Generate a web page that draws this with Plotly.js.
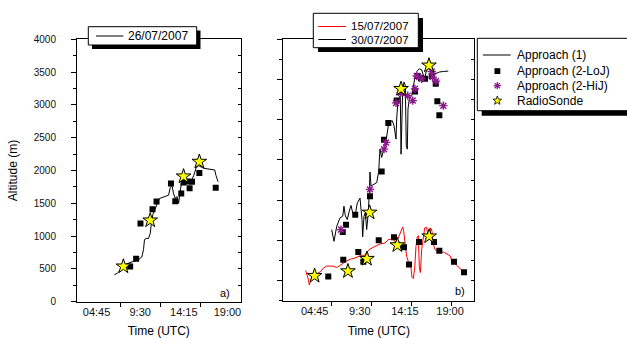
<!DOCTYPE html>
<html><head><meta charset="utf-8">
<script src="https://cdn.plot.ly/plotly-3.0.1.min.js"></script>
<style>html,body{margin:0;padding:0;background:#fff}#chart{width:627px;height:338px}</style>
</head><body><div id="chart"></div>
<script>
// ---------- DATA (time in decimal hours UTC, altitude in m) ----------
// Panel a) 26/07/2007
const line26_t   = [6.69,7.02,7.31,7.67,8.05,8.77,9.31,9.68,9.86,9.97,10.15,10.4,10.59,10.7,10.88,11.13,11.39,11.6,12.23,12.59,12.77,12.96,13.13,13.32,13.5,13.68,13.79,13.94,14.05,14.41,14.66,14.96,15.32,15.58,15.86,16.41,16.95,17.61,17.76,17.98];
const line26_alt = [410,436,476,548,579,614,640,682,794,948,963,963,1040,1178,1332,1408,1521,1573,1604,1624,1742,1767,1650,1573,1604,1500,1613,1767,1880,1895,1843,1818,1920,2034,2074,2034,2023,2008,1920,1828];
const loj26_t    = [8.41,9.06,9.53,10.84,11.28,12.85,13.32,13.97,14.22,14.6,14.88,15.14,15.94,17.72];
const loj26_alt  = [538,656,1193,1408,1527,1803,1531,1650,1819,1834,1731,1828,1961,1736];
const rs26_t     = [7.67,10.59,14.22,15.94];
const rs26_alt   = [538,1240,1911,2135];

// Panel b) 15/07/2007 (red) and 30/07/2007 (black)
const line15_t   = [3.80,4.08,4.18,4.36,4.54,4.96,5.38,5.66,6.01,6.65,7.07,7.41,7.76,8.12,8.54,8.99,9.52,9.94,10.22,10.57,11.1,11.62,12.15,12.5,12.96,13.31,13.55,13.8,14.01,14.12,14.26,14.43,14.68,14.89,14.99,15.13,15.28,15.41,15.55,15.66,15.76,15.87,16.01,16.18,16.33,16.54,16.68,16.81,16.96,17.1,17.2,17.42,17.76,18.29,18.65,19.0,19.17,19.41,19.7,19.94,20.22,20.33];
const line15_alt = [375,267,196,259,321,334,363,405,430,430,413,438,467,496,517,530,559,559,600,642,675,705,717,759,767,725,780,863,917,863,675,550,459,405,292,275,405,675,792,809,425,350,634,800,905,913,800,767,905,863,717,634,600,605,584,559,500,480,438,413,392,371];
const line30_t   = [6.54,6.78,7.07,7.41,7.70,7.83,7.97,8.18,8.39,8.57,8.75,8.99,9.24,9.52,9.73,9.80,9.94,10.08,10.22,10.39,10.50,10.57,10.68,10.92,11.28,11.49,11.62,11.80,11.97,12.18,12.33,12.50,12.68,12.92,13.10,13.31,13.38,13.49,13.66,13.76,13.84,13.94,14.01,14.15,14.29,14.39,14.50,14.57,14.71,14.96,15.13,15.31,15.49,15.76,16.01,16.18,16.33,16.47,16.71,16.96,17.23,17.52,17.87,18.29,18.81];
const line30_alt = [884,738,925,1030,1050,1175,1059,1009,1113,1184,1093,1050,1218,1275,1009,793,1050,1093,884,1093,1343,1600,1425,1443,1468,1613,1884,1780,1863,1925,2030,2175,2225,2238,2175,2009,2259,2446,2530,2550,1821,2343,2613,2718,2675,1925,1884,2384,2509,2550,2668,2780,2850,2884,2871,2800,2750,2843,2893,2875,2834,2825,2843,2850,2855];
const loj15_t    = [6.18,7.76,9.34,9.87,11.49,13.1,13.45,14.15,14.68,15.73,17.31,17.87,19.41,20.47];
const loj15_alt  = [300,509,605,484,750,788,696,663,450,730,730,621,484,355];
const loj30_t    = [7.7,8.05,9.02,10.57,11.8,12.05,12.5,13.38,13.87,15.31,15.59,15.94,16.36,17.07,17.49,17.66,17.87];
const loj30_alt  = [855,943,1068,1300,1605,2000,2209,2488,2593,2600,2793,2765,2759,2793,2696,2480,2305];
const hij30_t    = [7.52,10.57,12.05,12.26,13.31,13.8,14.54,15.07,15.3,15.49,16.01,17.07,17.17,17.52,18.29];
const hij30_alt  = [884,1384,1884,1968,2459,2584,2550,2488,2634,2793,2759,2850,2780,2730,2425];
const rsB_t      = [4.74,8.25,10.25,10.53,13.45,13.84,16.78,16.8];
const rsB_alt    = [309,367,521,1096,690,2634,2925,800];

// Axis ticks
const timeTickVals  = [4.75,9.5,14.25,19];
const timeTickText  = ['04:45','9:30','14:15','19:00'];
const altTickVals   = [0,500,1000,1500,2000,2500,3000,3500,4000];
const legendA = ['26/07/2007'];
const legendB = ['15/07/2007','30/07/2007'];
const legendC = ['Approach (1)','Approach (2-LoJ)','Approach (2-HiJ)','RadioSonde'];

// ---------- STYLE / LAYOUT ----------
const W=627,H=338;
const X=p=>p/W, Y=p=>1-p/H;
const FONT='Liberation Sans, Arial, sans-serif';
const PURPLE='#8b1a8b', STARFILL='#ffff00';

const sq = {symbol:'square',size:6,color:'#000'};
const st = {symbol:'star',size:11,color:STARFILL,line:{color:'#000',width:1}};
const ast= {symbol:'asterisk-open',size:7,color:PURPLE,line:{color:PURPLE,width:1.4}};

const traces = [
  {x:line26_t,y:line26_alt,xaxis:'x',yaxis:'y',mode:'lines',line:{color:'#000',width:1}},
  {x:loj26_t,y:loj26_alt,xaxis:'x',yaxis:'y',mode:'markers',marker:sq},
  {x:rs26_t,y:rs26_alt,xaxis:'x',yaxis:'y',mode:'markers',marker:st},
  {x:line15_t,y:line15_alt,xaxis:'x2',yaxis:'y2',mode:'lines',line:{color:'#ff0000',width:1}},
  {x:line30_t,y:line30_alt,xaxis:'x2',yaxis:'y2',mode:'lines',line:{color:'#000',width:1}},
  {x:loj15_t,y:loj15_alt,xaxis:'x2',yaxis:'y2',mode:'markers',marker:sq},
  {x:loj30_t,y:loj30_alt,xaxis:'x2',yaxis:'y2',mode:'markers',marker:sq},
  {x:hij30_t,y:hij30_alt,xaxis:'x2',yaxis:'y2',mode:'markers',marker:ast},
  {x:rsB_t,y:rsB_alt,xaxis:'x2',yaxis:'y2',mode:'markers',marker:st},
  {x:[],y:[],xaxis:'x',yaxis:'y3',mode:'markers'},
  {x:[],y:[],xaxis:'x2',yaxis:'y4',mode:'markers'}
];

const baseAx = {showline:true,linecolor:'#000',linewidth:1,showgrid:false,zeroline:false,
  tickfont:{family:FONT,size:11,color:'#111'},tickcolor:'#000'};

const layout = {
  width:W,height:H,margin:{l:0,r:0,t:0,b:0},paper_bgcolor:'#fff',plot_bgcolor:'#fff',
  showlegend:false,font:{family:FONT,color:'#000'},
  xaxis:Object.assign({},baseAx,{domain:[X(77),X(240.5)],range:[2.62,20.42],anchor:'y',mirror:true,
    tickmode:'array',tickvals:timeTickVals,ticktext:timeTickText,ticks:'',
    minor:{tickvals:[7.31,11.68,16.05],ticks:'outside',ticklen:4,tickcolor:'#000',showgrid:false},
    title:{text:'Time (UTC)',font:{family:FONT,size:12},standoff:13}}),
  yaxis:Object.assign({},baseAx,{domain:[0.1074,0.8837],range:[0,4000],anchor:'x',mirror:true,
    tickmode:'array',tickvals:altTickVals,ticks:'outside',ticklen:5,ticklabelstandoff:13,
    tickfont:{family:FONT,size:10,color:'#111'},
    minor:{dtick:250,tick0:0,ticks:'outside',ticklen:3,tickcolor:'#000',showgrid:false},
    title:{text:'Altitude (m)',font:{family:FONT,size:12},standoff:13}}),
  yaxis3:{overlaying:'y',side:'right',anchor:'x',range:[0,4000],dtick:250,tick0:0,ticks:'inside',ticklen:3,
    tickcolor:'#000',showticklabels:false,showline:false,showgrid:false,zeroline:false},
  xaxis2:Object.assign({},baseAx,{domain:[X(283.3),X(474.3)],range:[1.445,21.55],anchor:'y2',mirror:true,
    tickmode:'array',tickvals:timeTickVals,ticktext:timeTickText,ticks:'',
    minor:{tickvals:[6.5,10.7,14.9,19.1],ticks:'outside',ticklen:4,tickcolor:'#000',showgrid:false},
    title:{text:'Time (UTC)',font:{family:FONT,size:12},standoff:13}}),
  yaxis2:Object.assign({},baseAx,{domain:[0.1104,0.8837],range:[0,3250],anchor:'x2',mirror:true,
    tick0:250,dtick:500,ticks:'outside',ticklen:5,showticklabels:false,
    minor:{dtick:250,tick0:0,ticks:'outside',ticklen:3,tickcolor:'#000',showgrid:false}}),
  yaxis4:{overlaying:'y2',side:'right',anchor:'x2',range:[0,3250],dtick:250,tick0:0,ticks:'inside',ticklen:3,
    tickcolor:'#000',showticklabels:false,showline:false,showgrid:false,zeroline:false},
  shapes:[],annotations:[]
};

// legend boxes with shadows (drawn in pixel space)
function rectPx(x0,y0,x1,y1,fill,line){
  return {type:'rect',xref:'paper',yref:'paper',x0:X(x0),x1:X(x1),y0:Y(y1),y1:Y(y0),
    fillcolor:fill,line:line?{color:line,width:1}:{width:0},layer:'above'};
}
function linePx(x0,y0,x1,y1,color,w){
  return {type:'line',xref:'paper',yref:'paper',x0:X(x0),x1:X(x1),y0:Y(y0),y1:Y(y1),
    line:{color:color,width:w||1},layer:'above'};
}
function pathPx(pts,fill,line,w,closed){
  let d='M'+pts.map(p=>X(p[0]).toFixed(5)+','+Y(p[1]).toFixed(5)).join('L')+(closed?'Z':'');
  return {type:'path',xref:'paper',yref:'paper',path:d,fillcolor:fill||'rgba(0,0,0,0)',
    line:{color:line,width:w||1},layer:'above'};
}
function txt(x,y,t,size,anchor){
  return {xref:'paper',yref:'paper',x:X(x),y:Y(y),text:t,showarrow:false,xanchor:anchor||'left',
    yanchor:'middle',font:{family:FONT,size:size||12,color:'#000'}};
}
const S=layout.shapes, A=layout.annotations;

// legend a)
S.push(rectPx(92,30.5,200.5,49,'#000',null));
S.push(rectPx(88.3,26.7,196.7,45,'#fff','#000'));
S.push(linePx(96,36,123.3,36,'#000',1));
A.push(txt(125.5,36,legendA[0],12));
// legend b)
S.push(rectPx(318,18,423,52,'#000',null));
S.push(rectPx(313.3,13.3,418.3,47.7,'#fff','#000'));
S.push(linePx(318.3,26.5,346,26.5,'#ff0000',1));
S.push(linePx(318.3,39.5,346,39.5,'#000',1));
A.push(txt(349,26.3,legendB[0],11.5));
A.push(txt(349,39.7,legendB[1],11.5));
// legend c)
S.push(rectPx(481.7,43,650,115.7,'#000',null));
S.push(rectPx(477.3,38.3,645,110.7,'#fff','#000'));
S.push(linePx(483,55,510.7,55,'#000',1));
S.push(rectPx(494.5,68.2,500.3,74,'#000',null));
(function(){ // asterisk key
  const cx=497.3,cy=85.7,r=3.6,d=r*0.72;
  S.push(pathPx([[cx-r,cy],[cx+r,cy]],null,PURPLE,1.3));
  S.push(pathPx([[cx,cy-r],[cx,cy+r]],null,PURPLE,1.3));
  S.push(pathPx([[cx-d,cy-d],[cx+d,cy+d]],null,PURPLE,1.3));
  S.push(pathPx([[cx-d,cy+d],[cx+d,cy-d]],null,PURPLE,1.3));
})();
(function(){ // star key
  const cx=497.3,cy=100.6,R=4.6,r=R*0.42,pts=[];
  for(let i=0;i<10;i++){const a=-Math.PI/2+i*Math.PI/5,rr=i%2?r:R;pts.push([cx+rr*Math.cos(a),cy+rr*Math.sin(a)]);}
  S.push(pathPx(pts,STARFILL,'#000',0.8,true));
})();
legendC.forEach((t,i)=>A.push(txt(515,[55,71,85.7,100.6][i],t,12)));
// panel labels
A.push(txt(225,292.5,'a)',11,'center'));
A.push(txt(459.5,290.5,'b)',11,'center'));

Plotly.newPlot('chart',traces,layout,{displayModeBar:false,staticPlot:true});
</script></body></html>
